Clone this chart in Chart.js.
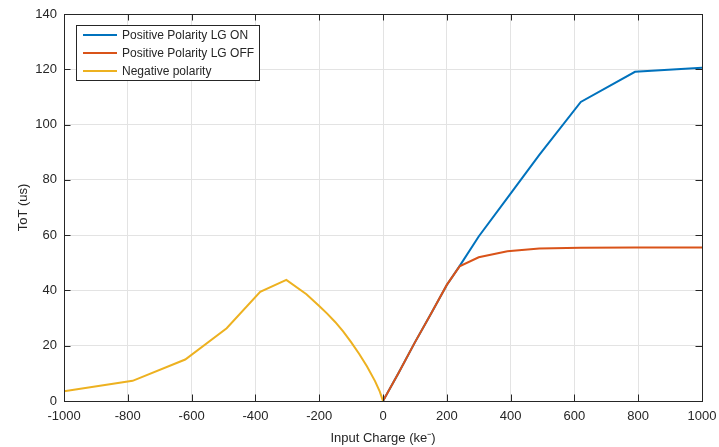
<!DOCTYPE html>
<html>
<head>
<meta charset="utf-8">
<script src="https://cdn.jsdelivr.net/npm/chart.js@4"></script>
<style>
  html, body { margin: 0; padding: 0; background: #fff; }
  #wrap { width: 719px; height: 447px; }
</style>
</head>
<body>
<div id="wrap"><canvas id="tot"></canvas></div>
<script>
// input charge (ke-) and ToT (us)
const posCharge = [0, 50, 100, 150, 200, 240, 300, 390, 490, 620, 790, 1000];
const lgOnTot   = [0, 10.4, 21.2, 31.5, 42, 48.8, 59.5, 73.5, 89, 108.2, 119.1, 120.6];
const lgOffTot  = [0, 10.4, 21.2, 31.5, 42, 48.7, 52, 54.2, 55.2, 55.4, 55.5, 55.5];

const negCharge = [-1000, -785, -620, -490, -385, -303, -240, -200, -175, -150, -125, -100, -75, -50, -25, -10, 0];
const negTot    = [3.5, 7.3, 15, 26.3, 39.5, 43.8, 38.6, 34.4, 31.6, 28.6, 25.2, 21.3, 17.1, 12.5, 7.2, 3.4, 0];

const xTicks = [-1000, -800, -600, -400, -200, 0, 200, 400, 600, 800, 1000];
const yTicks = [0, 20, 40, 60, 80, 100, 120, 140];

const seriesNames = ['Positive Polarity LG ON', 'Positive Polarity LG OFF', 'Negative polarity'];
const seriesColors = ['#0072BD', '#D95319', '#EDB120'];

const axisColor = '#262626';
const FONT = 'Liberation Sans, Arial, sans-serif';

const pts = (xs, ys) => xs.map((x, i) => ({ x: x, y: ys[i] }));

// MATLAB-style box with inward ticks on all four sides
const boxPlugin = {
  id: 'matlabBox',
  afterDraw(chart) {
    const { ctx, chartArea: a, scales } = chart;
    const len = 6.5;
    ctx.save();
    ctx.strokeStyle = axisColor;
    ctx.lineWidth = 1;
    ctx.beginPath();
    xTicks.forEach(v => {
      const px = Math.round(scales.x.getPixelForValue(v)) + 0.5;
      ctx.moveTo(px, a.bottom); ctx.lineTo(px, a.bottom - len);
      ctx.moveTo(px, a.top); ctx.lineTo(px, a.top + len);
    });
    yTicks.forEach(v => {
      const py = Math.round(scales.y.getPixelForValue(v)) + 0.5;
      ctx.moveTo(a.left, py); ctx.lineTo(a.left + len, py);
      ctx.moveTo(a.right, py); ctx.lineTo(a.right - len, py);
    });
    ctx.stroke();
    ctx.strokeRect(Math.round(a.left) + 0.5, Math.round(a.top) + 0.5,
                   Math.round(a.right - a.left), Math.round(a.bottom - a.top));

    // legend box, top left inside the axes
    const lx = 76.5, ly = 25.5, lw = 183, lh = 55;
    ctx.fillStyle = '#fff';
    ctx.fillRect(lx, ly, lw, lh);
    ctx.strokeStyle = axisColor;
    ctx.strokeRect(lx, ly, lw, lh);
    ctx.font = '12px ' + FONT;
    ctx.textBaseline = 'middle';
    ctx.textAlign = 'left';
    seriesNames.forEach((name, i) => {
      const y = 35 + i * 18;
      ctx.strokeStyle = seriesColors[i];
      ctx.lineWidth = 2;
      ctx.beginPath();
      ctx.moveTo(83, y); ctx.lineTo(117, y);
      ctx.stroke();
      ctx.fillStyle = axisColor;
      ctx.fillText(name, 122, y + 1);
    });
    ctx.restore();
  }
};

new Chart(document.getElementById('tot'), {
  type: 'line',
  data: {
    datasets: [
      { label: seriesNames[0], data: pts(posCharge, lgOnTot), borderColor: seriesColors[0], order: 3 },
      { label: seriesNames[1], data: pts(posCharge, lgOffTot), borderColor: seriesColors[1], order: 2 },
      { label: seriesNames[2], data: pts(negCharge, negTot), borderColor: seriesColors[2], order: 1 }
    ]
  },
  options: {
    responsive: true,
    maintainAspectRatio: false,
    animation: false,
    layout: { padding: { left: 0, top: 14, right: 17, bottom: 0 } },
    elements: {
      line: { borderWidth: 2, tension: 0, fill: false },
      point: { radius: 0 }
    },
    plugins: {
      legend: { display: false },
      tooltip: { enabled: false }
    },
    scales: {
      x: {
        type: 'linear',
        min: -1000,
        max: 1000,
        afterFit: s => { s.height = 46; s.paddingLeft = 0; s.paddingRight = 0; },
        afterBuildTicks: s => { s.ticks = xTicks.map(v => ({ value: v })); },
        grid: { color: '#e3e3e3', drawTicks: false },
        border: { display: false },
        ticks: {
          color: axisColor, padding: 8, maxRotation: 0,
          font: { family: FONT, size: 13 },
          callback: v => String(v)
        },
        title: {
          display: true,
          text: 'Input Charge (ke\u207B)',
          color: axisColor,
          padding: { top: 0, bottom: 1 },
          font: { family: FONT, size: 13 }
        }
      },
      y: {
        min: 0,
        max: 140,
        afterFit: s => { s.width = 64; s.paddingTop = 0; s.paddingBottom = 0; },
        afterBuildTicks: s => { s.ticks = yTicks.map(v => ({ value: v })); },
        grid: { color: '#e3e3e3', drawTicks: false },
        border: { display: false },
        ticks: {
          color: axisColor, padding: 7,
          font: { family: FONT, size: 13 },
          callback: v => String(v)
        },
        title: {
          display: true,
          text: 'ToT (us)',
          color: axisColor,
          padding: { top: 16, bottom: 0 },
          font: { family: FONT, size: 13 }
        }
      }
    }
  },
  plugins: [boxPlugin]
});
</script>
</body>
</html>
